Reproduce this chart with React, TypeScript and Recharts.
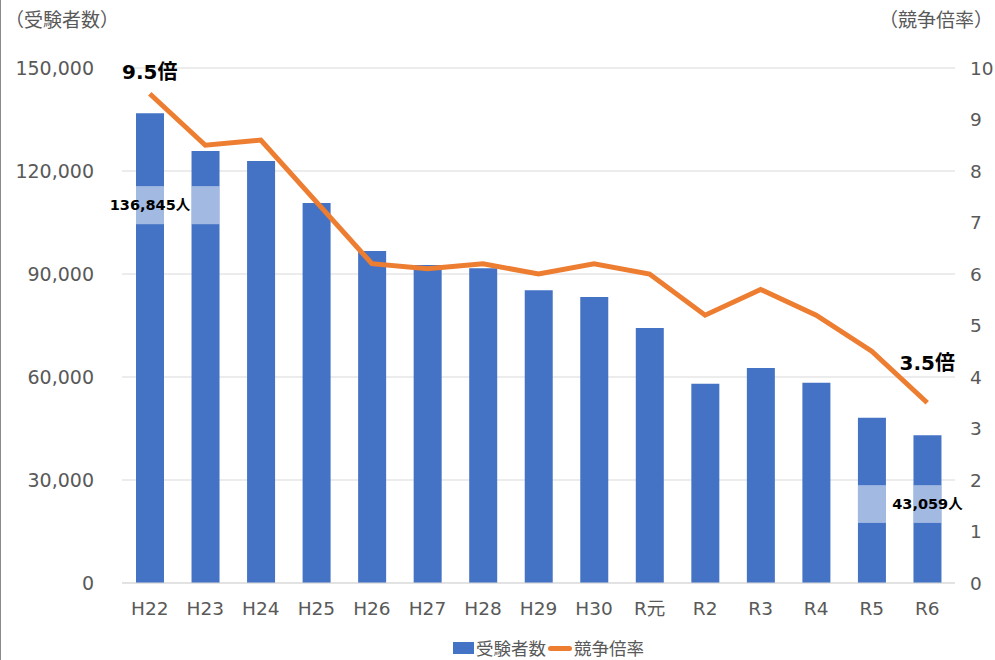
import { ComposedChart, Bar, Line, XAxis, YAxis, CartesianGrid, LabelList } from 'recharts';

const years = ['H22', 'H23', 'H24', 'H25', 'H26', 'H27', 'H28', 'H29', 'H30', 'R元', 'R2', 'R3', 'R4', 'R5', 'R6'];
const examinees = [136845, 125800, 122900, 110700, 96700, 92600, 91700, 85300, 83300, 74300, 58000, 62600, 58300, 48100, 43059];
const ratios = [9.5, 8.5, 8.6, 7.4, 6.2, 6.1, 6.2, 6.0, 6.2, 6.0, 5.2, 5.7, 5.2, 4.5, 3.5];
const leftTicks = [0, 30000, 60000, 90000, 120000, 150000];
const rightTicks = [0, 1, 2, 3, 4, 5, 6, 7, 8, 9, 10];

const data = years.map((year, i) => ({ year, examinees: examinees[i], ratio: ratios[i] }));

const CJK = '"Noto Sans CJK JP", "Noto Sans", sans-serif';
const NUM = '"DejaVu Sans", "Noto Sans CJK JP", sans-serif';
const BLUE = '#4472C4';
const ORANGE = '#ED7D31';
const GRAY = '#595959';

// light bands (value range) drawn over the bars behind the first/last count labels
const bands: Record<number, [number, number]> = {
  0: [104500, 115600],
  1: [104500, 115600],
  13: [17500, 28500],
  14: [17500, 28500],
};
const countLabels: Record<number, string> = { 0: '136,845人', 14: '43,059人' };

const bandRect = (props: any) => {
  const { x, y, width, height, value, index } = props;
  const b = bands[index];
  if (!b) return null;
  const k = height / value;
  const base = y + height;
  const top = base - b[1] * k;
  const bottom = base - b[0] * k;
  return <rect x={x} y={top} width={width} height={bottom - top} fill="#ffffff" fillOpacity={0.5} />;
};

const countText = (props: any) => {
  const { x, y, width, height, value, index } = props;
  const b = bands[index];
  const t = countLabels[index];
  if (!b || !t) return null;
  const k = height / value;
  const mid = y + height - ((b[0] + b[1]) / 2) * k;
  return (
    <text x={x + width / 2} y={mid} dy="0.36em" textAnchor="middle" fontSize={14.5} fontWeight={700} fill="#000" fontFamily={NUM}>
      {t}
    </text>
  );
};

const ratioLabel = (props: any) => {
  const { x, y, value, index } = props;
  if (index !== 0 && index !== ratios.length - 1) return null;
  const dy = index === 0 ? -15 : -33;
  return (
    <text x={x} y={y + dy} textAnchor="middle" fontSize={20} fontWeight={700} fill="#000" fontFamily={NUM}>
      {value.toFixed(1)}倍
    </text>
  );
};

export default function App() {
  return (
    <div style={{ position: 'absolute', left: 0, top: 0, width: 995, height: 660, background: '#fff', fontFamily: CJK, overflow: 'hidden', borderLeft: '1px solid #8a8a8a', boxSizing: 'border-box' }}>
      <div style={{ position: 'absolute', left: 4, top: 5, fontSize: 19, color: GRAY }}>（受験者数）</div>
      <div style={{ position: 'absolute', right: 2, top: 5, fontSize: 19, color: GRAY }}>（競争倍率）</div>
      <ComposedChart width={994} height={660} data={data} margin={{ top: 68, right: 0, left: 0, bottom: 0 }}>
        <CartesianGrid vertical={false} stroke="#d9d9d9" yAxisId="left" />
        <XAxis
          dataKey="year"
          height={77}
          axisLine={{ stroke: '#d9d9d9' }}
          tickLine={false}
          tickMargin={13}
          tick={{ fontSize: 18.5, fill: GRAY, fontFamily: NUM }}
        />
        <YAxis
          yAxisId="left"
          width={121}
          domain={[0, 150000]}
          ticks={leftTicks}
          axisLine={false}
          tickLine={false}
          tickMargin={22}
          tickFormatter={(v: number) => v.toLocaleString('en-US')}
          tick={{ fontSize: 19, fill: GRAY, fontFamily: NUM }}
        />
        <YAxis
          yAxisId="right"
          orientation="right"
          width={40}
          domain={[0, 10]}
          ticks={rightTicks}
          axisLine={false}
          tickLine={false}
          tickMargin={9}
          tick={{ fontSize: 18.5, fill: GRAY, fontFamily: NUM, textAnchor: 'start' }}
        />
        <Bar yAxisId="left" dataKey="examinees" name="受験者数" fill={BLUE} barSize={28} isAnimationActive={false}>
          <LabelList dataKey="examinees" content={bandRect} />
          <LabelList dataKey="examinees" content={countText} />
        </Bar>
        <Line yAxisId="right" type="linear" dataKey="ratio" name="競争倍率" stroke={ORANGE} strokeWidth={5} dot={false} activeDot={false} isAnimationActive={false}>
          <LabelList dataKey="ratio" content={ratioLabel} />
        </Line>
      </ComposedChart>
      <div style={{ position: 'absolute', left: 452, top: 636, display: 'flex', alignItems: 'center', fontSize: 17.5, color: GRAY, lineHeight: '24px' }}>
        <span style={{ width: 21, height: 12, background: BLUE, display: 'inline-block', marginRight: 2 }} />
        <span>受験者数</span>
        <span style={{ width: 24, height: 5, background: ORANGE, display: 'inline-block', borderRadius: 3, margin: '0 2px 0 2px' }} />
        <span>競争倍率</span>
      </div>
    </div>
  );
}
